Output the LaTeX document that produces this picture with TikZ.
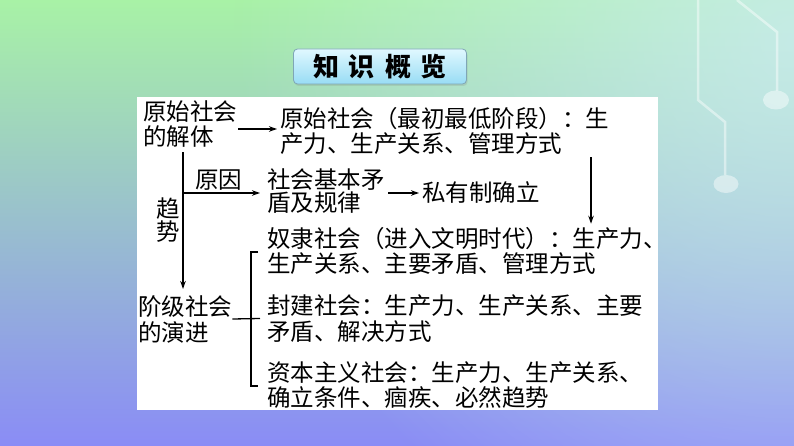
\documentclass[tikz,border=0pt]{standalone}
\usepackage{fontspec}
\setmainfont{Noto Sans CJK SC}
\usetikzlibrary{arrows.meta,calc,fadings,shadows}

\definecolor{bgtop}{HTML}{A8F2A6}
\definecolor{bgmid}{HTML}{A9E2E4}
\definecolor{bgbot}{HTML}{8A8CF6}
\definecolor{glow}{HTML}{CDEBF4}
\definecolor{titletop}{HTML}{E0F8FF}
\definecolor{titlebot}{HTML}{98DCF4}
\definecolor{titleframe}{HTML}{7FA6B6}

\tikzfading[name=glowfade, inner color=transparent!0, outer color=transparent!100]

\begin{document}
\begin{tikzpicture}[x=1pt,y=-1pt,
    txt/.style={inner sep=0pt, anchor=west, align=left, font=\fontsize{23.5}{25}\selectfont},
    arr/.style={line width=1.3pt, -{Stealth[length=8pt,width=5.5pt]}},
    ln/.style={line width=1.3pt},
    deco/.style={white, opacity=0.45}]
    \useasboundingbox (0,0) rectangle (794,446);
    % background
    \shade[top color=bgtop, middle color=bgmid, bottom color=bgbot] (0,0) rectangle (794,446);
    \begin{scope}
        \clip (0,0) rectangle (794,446);
        \fill[glow, opacity=0.8, path fading=glowfade] (794,40) circle (560);
    \end{scope}
    % circuit lines top right
    \draw[deco, line width=2.5pt] (698,0) -- (698,100) -- (725,122) -- (725,175);
    \fill[deco] (726,184) ellipse (12.5 and 9);
    \draw[deco, line width=2.5pt] (737,0) -- (777,32) -- (777,91);
    \fill[deco] (776,100) ellipse (13 and 9.5);
    % white panel
    \fill[white] (137,97) rectangle (658,410);

    \node[draw=titleframe, line width=0.8pt, rounded corners=4pt,
          top color=titletop, bottom color=titlebot,
          drop shadow={opacity=0.2, shadow xshift=1pt, shadow yshift=-2pt},
          minimum width=173pt, minimum height=35pt,
          font=\fontsize{26}{26}\selectfont\bfseries] (title) at (380,66.5)
          {知\hspace{10pt}识\hspace{10pt}概\hspace{10pt}览};

    % first stage
    \node[txt] (yuanshi) at (143,124.5) {原始社会\\的解体};
    \node[txt] (yuanshiD) at (280,130.5) {原始社会（最初最低阶段）：生\\产力、生产关系、管理方式};
    \node[txt] (yuanyin) at (195,180) {原因};
    \node[txt, font=\fontsize{23.5}{23}\selectfont] (maodun) at (267,191.5) {社会基本矛\\盾及规律};
    \node[txt] (siyou) at (422,193) {私有制确立};
    \node[txt, anchor=center, font=\fontsize{23.5}{21}\selectfont] (qushi) at (168,220) {趋\\势};
    % class society
    \node[txt] (nuli) at (267,250.5) {奴隶社会（进入文明时代）：生产力、\\生产关系、主要矛盾、管理方式};
    \node[txt, font=\fontsize{23.5}{26}\selectfont] (jieji) at (138,319) {阶级社会\\的演进};
    \node[txt, font=\fontsize{23.5}{26}\selectfont] (fengjian) at (267,318.5) {封建社会：生产力、生产关系、主要\\矛盾、解决方式};
    \node[txt] (ziben) at (267,385.5) {资本主义社会：生产力、生产关系、\\确立条件、痼疾、必然趋势};

    % arrows
    \draw[arr, shorten >=3pt] ($(yuanshi.east)+(1,4.5)$) -- ($(yuanshiD.west)+(0,-1.5)$);
    \draw[arr, shorten >=6pt] ($(yuanshi.south west)+(40,4)$) coordinate (trunk) -- (trunk |- jieji.north);
    \draw[arr, shorten >=7pt] ($(trunk |- maodun.west)+(0,1.5)$) -- ($(maodun.west)+(0,1.5)$);
    \draw[arr, shorten >=3pt] ($(maodun.east)+(3.5,1.5)$) -- (siyou.west);
    \draw[arr] ($(yuanshiD.south west)+(311,3)$) coordinate (rdown) -- ($(rdown |- nuli.north)+(0,-3)$);
    % bracket
    \draw[ln] ($(nuli.west)+(-9,1.5)$) -- ++(-7,0) |- ($(ziben.west)+(-9,0.5)$);
    \draw[ln] (jieji.east) -- ($(fengjian.west)+(-7,0)$);
\end{tikzpicture}
\end{document}
